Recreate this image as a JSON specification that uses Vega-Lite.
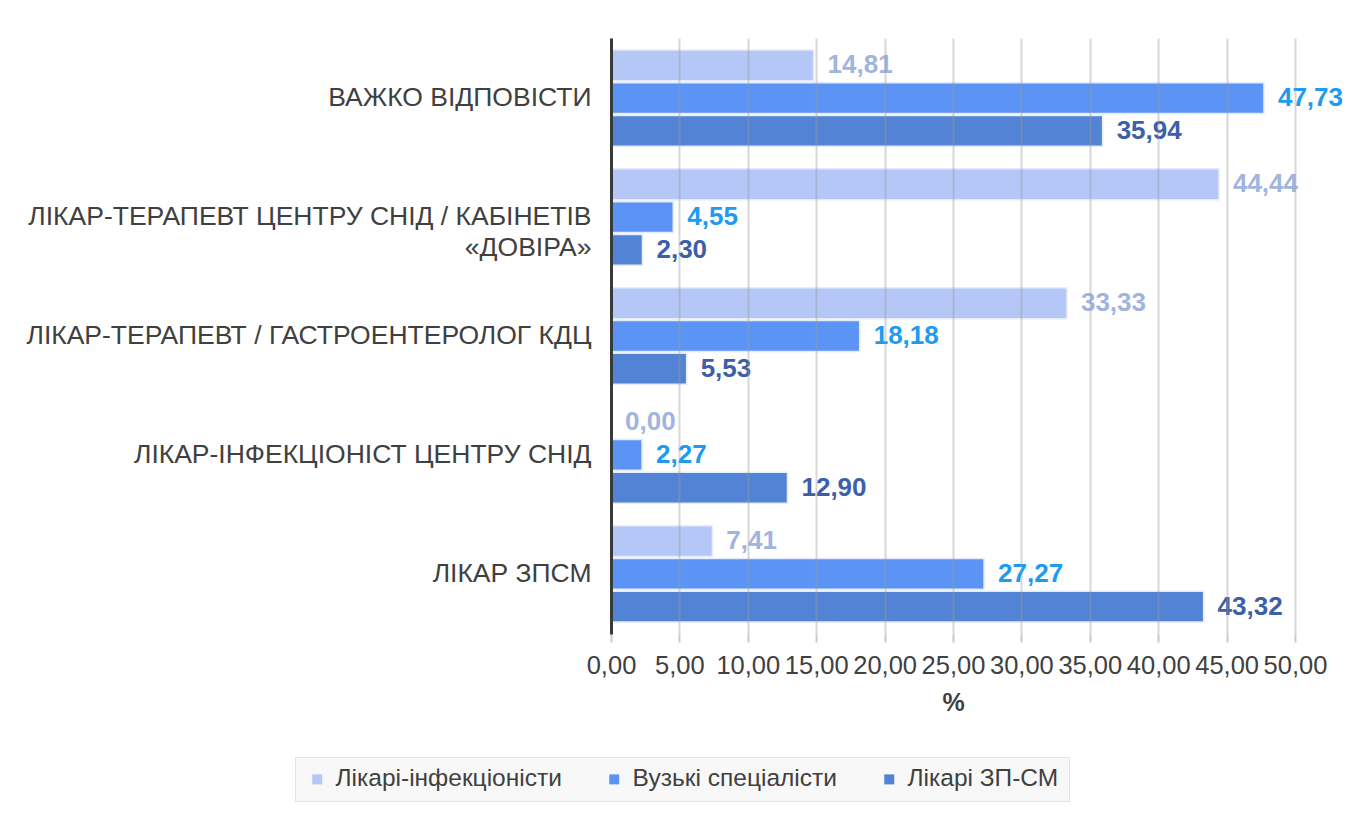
{
  "$schema": "https://vega.github.io/schema/vega-lite/v6.json",
  "width": 684,
  "height": 596,
  "autosize": {"type": "none"},
  "padding": {"left": 611, "top": 38, "right": 67, "bottom": 180},
  "background": "white",
  "config": {
    "locale": {"number": {"decimal": ",", "thousands": " ", "grouping": [3], "currency": ["", ""]}},
    "font": "Liberation Sans",
    "view": {"stroke": null}
  },
  "data": {
    "values": [
      {"category": "ВАЖКО ВІДПОВІСТИ", "series": "Лікарі-інфекціоністи", "value": 14.81},
      {"category": "ВАЖКО ВІДПОВІСТИ", "series": "Вузькі спеціалісти", "value": 47.73},
      {"category": "ВАЖКО ВІДПОВІСТИ", "series": "Лікарі ЗП-СМ", "value": 35.94},
      {"category": "ЛІКАР-ТЕРАПЕВТ ЦЕНТРУ СНІД / КАБІНЕТІВ «ДОВІРА»", "series": "Лікарі-інфекціоністи", "value": 44.44},
      {"category": "ЛІКАР-ТЕРАПЕВТ ЦЕНТРУ СНІД / КАБІНЕТІВ «ДОВІРА»", "series": "Вузькі спеціалісти", "value": 4.55},
      {"category": "ЛІКАР-ТЕРАПЕВТ ЦЕНТРУ СНІД / КАБІНЕТІВ «ДОВІРА»", "series": "Лікарі ЗП-СМ", "value": 2.30},
      {"category": "ЛІКАР-ТЕРАПЕВТ / ГАСТРОЕНТЕРОЛОГ КДЦ", "series": "Лікарі-інфекціоністи", "value": 33.33},
      {"category": "ЛІКАР-ТЕРАПЕВТ / ГАСТРОЕНТЕРОЛОГ КДЦ", "series": "Вузькі спеціалісти", "value": 18.18},
      {"category": "ЛІКАР-ТЕРАПЕВТ / ГАСТРОЕНТЕРОЛОГ КДЦ", "series": "Лікарі ЗП-СМ", "value": 5.53},
      {"category": "ЛІКАР-ІНФЕКЦІОНІСТ ЦЕНТРУ СНІД", "series": "Лікарі-інфекціоністи", "value": 0.00},
      {"category": "ЛІКАР-ІНФЕКЦІОНІСТ ЦЕНТРУ СНІД", "series": "Вузькі спеціалісти", "value": 2.27},
      {"category": "ЛІКАР-ІНФЕКЦІОНІСТ ЦЕНТРУ СНІД", "series": "Лікарі ЗП-СМ", "value": 12.90},
      {"category": "ЛІКАР ЗПСМ", "series": "Лікарі-інфекціоністи", "value": 7.41},
      {"category": "ЛІКАР ЗПСМ", "series": "Вузькі спеціалісти", "value": 27.27},
      {"category": "ЛІКАР ЗПСМ", "series": "Лікарі ЗП-СМ", "value": 43.32}
    ]
  },
  "encoding": {
    "y": {
      "field": "category",
      "type": "nominal",
      "sort": null,
      "scale": {"paddingInner": 0.19, "paddingOuter": 0.1},
      "axis": {
        "title": null,
        "zindex": 2,
        "ticks": false,
        "domain": true,
        "domainColor": "#3a3a3a",
        "domainWidth": 3,
        "labelFontSize": 26.5,
        "labelColor": "#404040",
        "labelPadding": 20,
        "labelLimit": 700,
        "labelLineHeight": 31,
        "labelExpr": "indexof(datum.label, ' «') > 0 ? [slice(datum.label, 0, indexof(datum.label, ' «')), slice(datum.label, indexof(datum.label, ' «') + 1)] : datum.label"
      }
    },
    "yOffset": {
      "field": "series",
      "type": "nominal",
      "sort": ["Лікарі-інфекціоністи", "Вузькі спеціалісти", "Лікарі ЗП-СМ"],
      "scale": {"paddingInner": 0.06}
    },
    "x": {
      "field": "value",
      "type": "quantitative",
      "scale": {"domain": [0, 50], "nice": false},
      "axis": {
        "values": [0, 5, 10, 15, 20, 25, 30, 35, 40, 45, 50],
        "format": ".2f",
        "zindex": 1,
        "grid": true,
        "gridColor": "#9a9a9a",
        "gridOpacity": 0.4,
        "gridWidth": 2,
        "domain": false,
        "ticks": true,
        "tickColor": "#c8c8c8",
        "tickWidth": 2,
        "tickSize": 8,
        "labelFontSize": 25.5,
        "labelColor": "#404040",
        "labelPadding": 11,
        "labelFlush": false,
        "labelOverlap": false,
        "title": "%",
        "titleFontSize": 25,
        "titleFontWeight": "bold",
        "titleColor": "#404040",
        "titlePadding": 12
      }
    }
  },
  "layer": [
    {
      "mark": {"type": "bar", "stroke": "#e4ebf9", "strokeWidth": 1.5, "opacity": 1},
      "encoding": {
        "color": {
          "field": "series",
          "type": "nominal",
          "scale": {
            "domain": ["Лікарі-інфекціоністи", "Вузькі спеціалісти", "Лікарі ЗП-СМ"],
            "range": ["#b4c7f7", "#5b94f4", "#5283d4"]
          },
          "legend": {
            "title": null,
            "orient": "none",
            "direction": "horizontal",
            "legendX": -316,
            "legendY": 719,
            "fillColor": "#f8f8f8",
            "strokeColor": "#e4e4e4",
            "padding": 10,
            "symbolType": "square",
            "symbolSize": 100,
            "symbolStrokeWidth": 0,
            "labelFontSize": 24.5,
            "labelColor": "#404040",
            "labelLimit": 400,
            "labelOffset": 6,
            "columnPadding": 40
          }
        }
      }
    },
    {
      "mark": {"type": "text", "align": "left", "baseline": "middle", "dx": 14, "fontSize": 26, "fontWeight": "bold"},
      "encoding": {
        "text": {"field": "value", "type": "quantitative", "format": ".2f"},
        "color": {
          "field": "series",
          "type": "nominal",
          "scale": {
            "domain": ["Лікарі-інфекціоністи", "Вузькі спеціалісти", "Лікарі ЗП-СМ"],
            "range": ["#9fb5e0", "#1c9bf0", "#3d5fa8"]
          },
          "legend": null
        }
      }
    }
  ],
  "resolve": {"scale": {"color": "independent"}}
}
